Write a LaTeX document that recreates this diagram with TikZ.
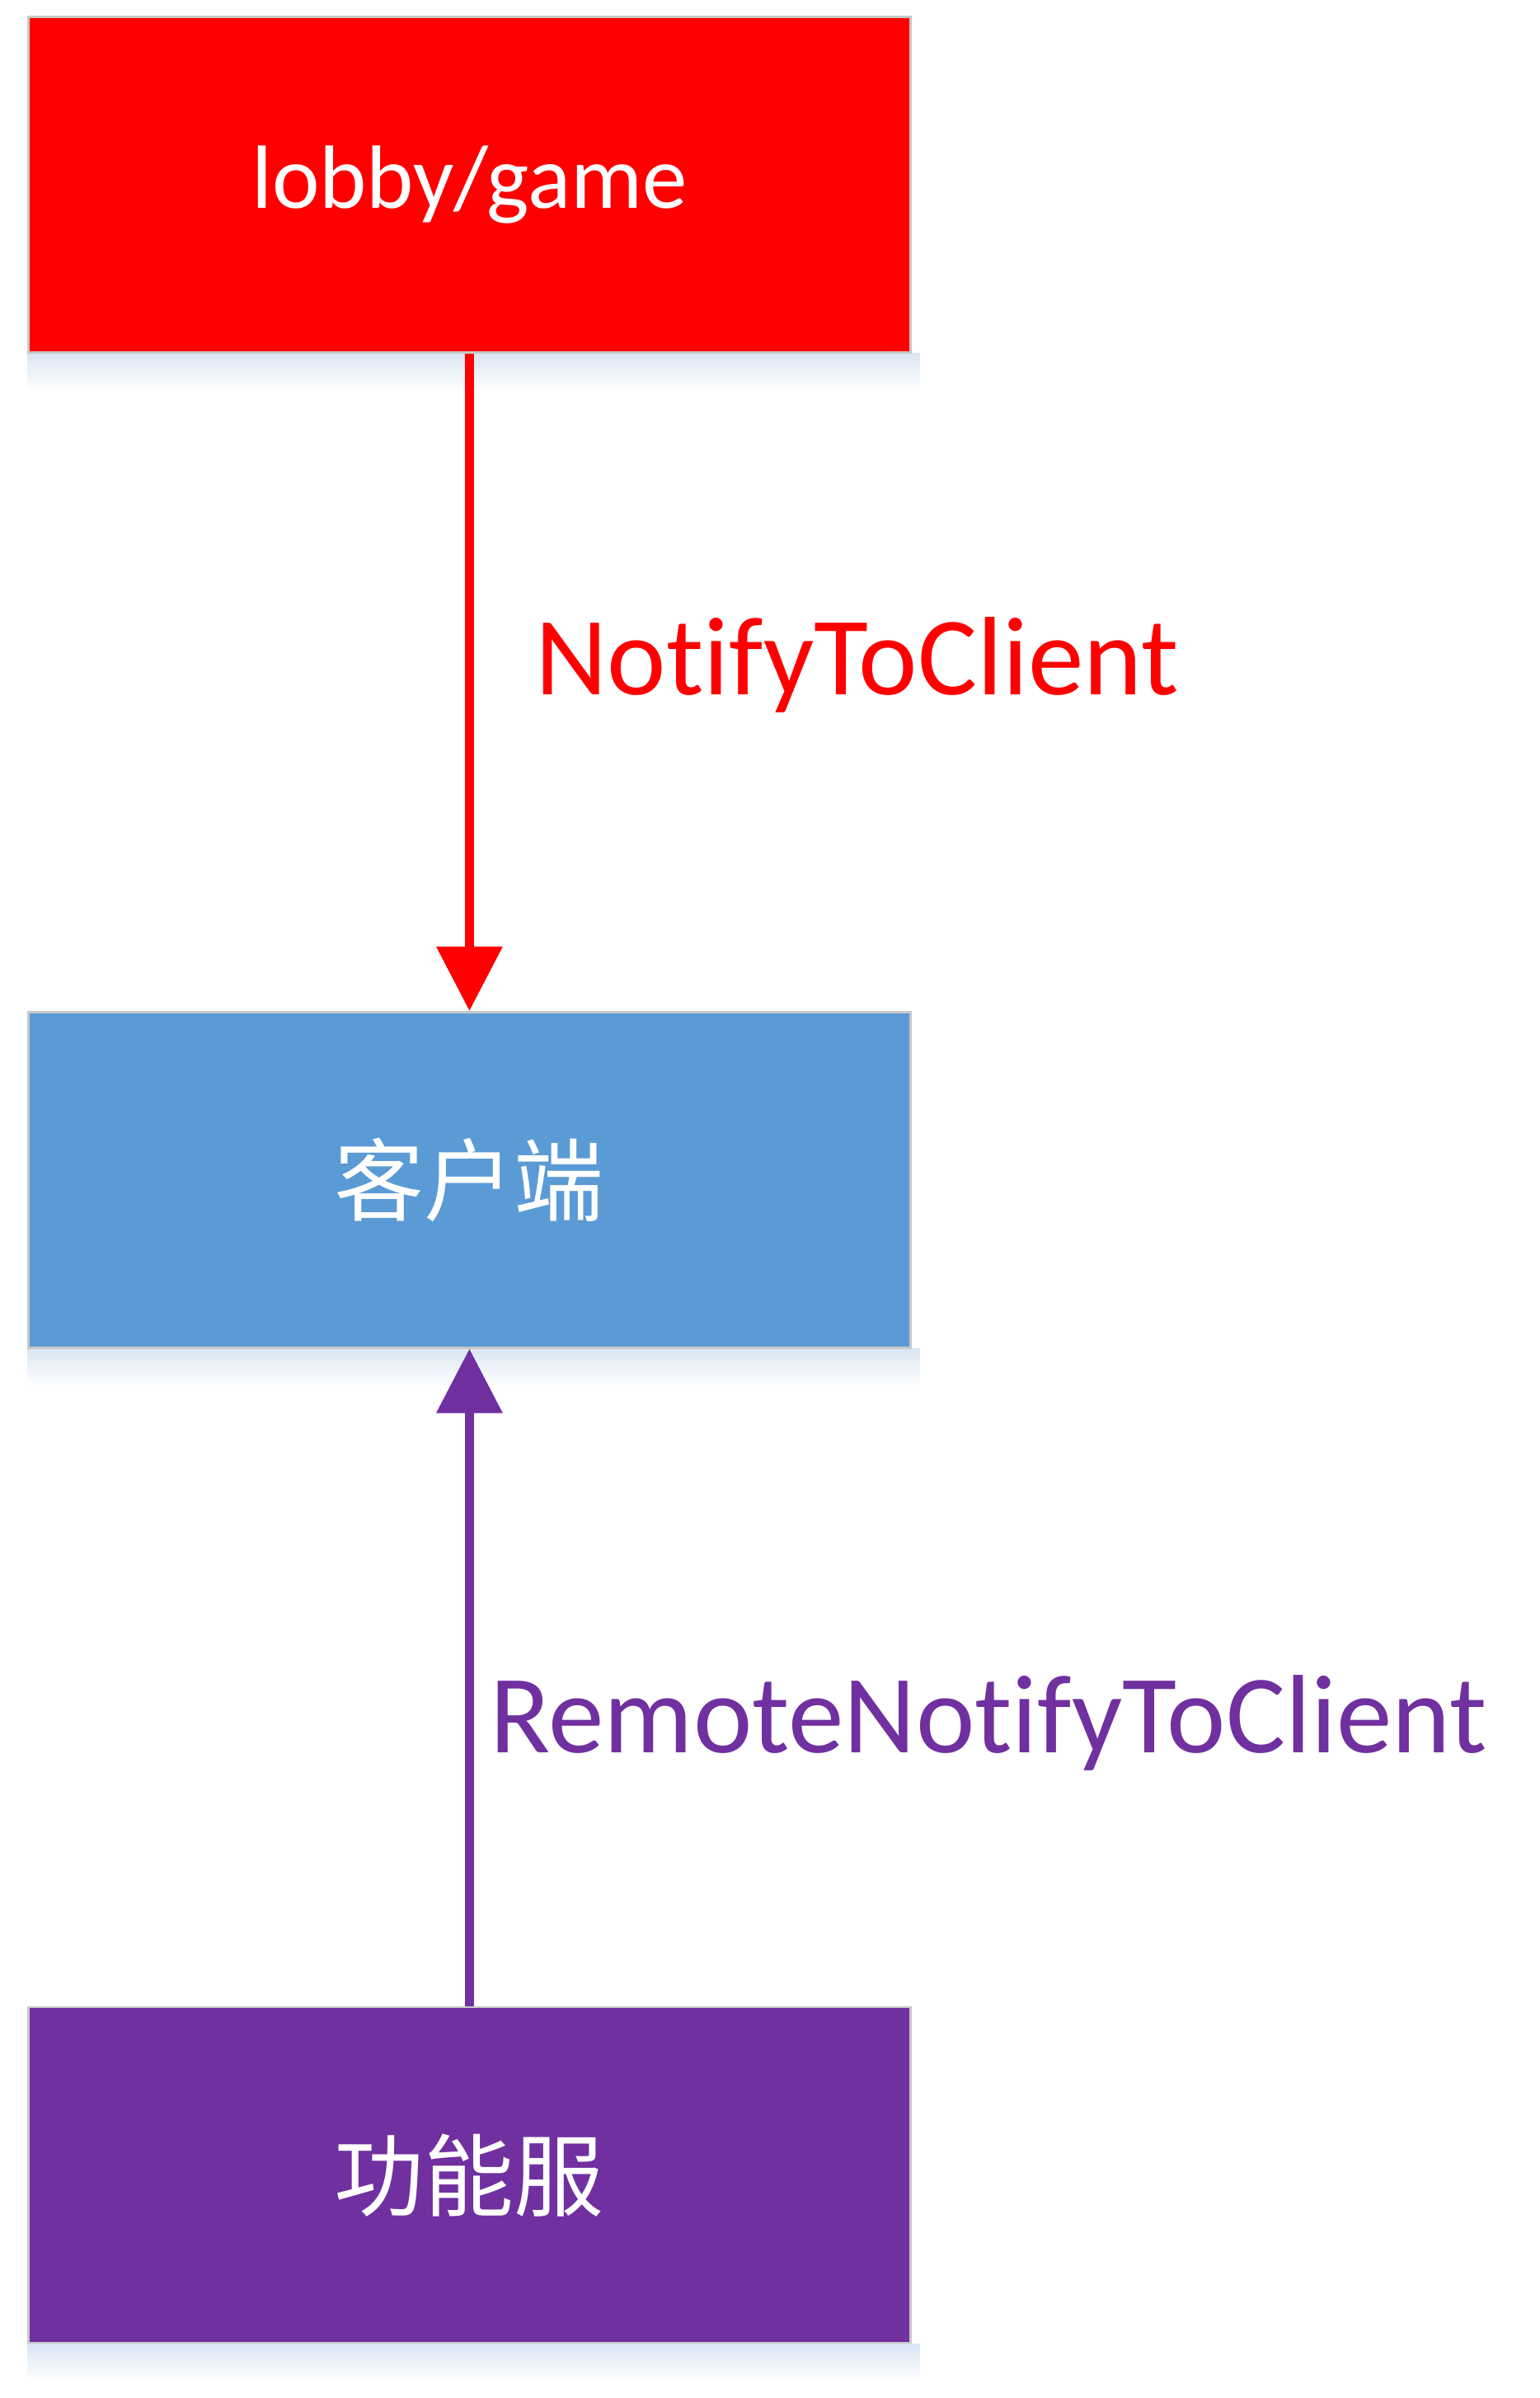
\documentclass[tikz,border=0pt]{standalone}
\usepackage{fontspec}
\setmainfont{Carlito}[Ligatures={NoCommon,NoRequired,NoContextual}]
\newfontfamily\cjk{Noto Sans CJK SC}
\usetikzlibrary{arrows.meta,positioning,backgrounds}
\definecolor{srv}{HTML}{FF0000}
\definecolor{cli}{HTML}{5B9BD5}
\definecolor{fun}{HTML}{7030A0}
\definecolor{edge}{HTML}{C8C8C8}
\definecolor{shd}{HTML}{DAE6F3}
\tikzset{
  box/.style={draw=edge,line width=0.8pt,minimum width=10.7cm,minimum height=4.07cm,text=white,font=\fontsize{31}{36}\selectfont},
  rbox/.style={box,fill=srv},
  bbox/.style={box,fill=cli},
  pbox/.style={box,fill=fun},
  ar/.style={-{Triangle[length=0.78cm,width=0.78cm]},line width=3pt},
  lbl/.style={font=\fontsize{38.5}{44}\selectfont,anchor=west},
}
\begin{document}
\begin{tikzpicture}
\useasboundingbox (0,0) rectangle (18.67,-29.08);
\node[rbox,anchor=north west] (game) at (0.33,-0.19) {lobby/game};
\node[bbox,below=7.97cm of game] (client) {\cjk 客户端};
\node[pbox,below=7.97cm of client] (func) {\cjk 功能服};
% soft shadow under each box
\begin{scope}[on background layer]
\foreach \b in {game,client,func}
  \shade[top color=shd,bottom color=white] (\b.south west) rectangle ([xshift=0.1cm,yshift=-0.45cm]\b.south east);
\end{scope}
\draw[ar,draw=srv,fill=srv] (game) -- (client);
\draw[ar,draw=fun,fill=fun] (func) -- (client);
\node[lbl,text=srv] (notify) at (6.37,-8.06) {NotifyToClient};
\node[lbl,text=fun] (remote) at (5.82,-20.89) {RemoteNotifyToClient};
\end{tikzpicture}
\end{document}
